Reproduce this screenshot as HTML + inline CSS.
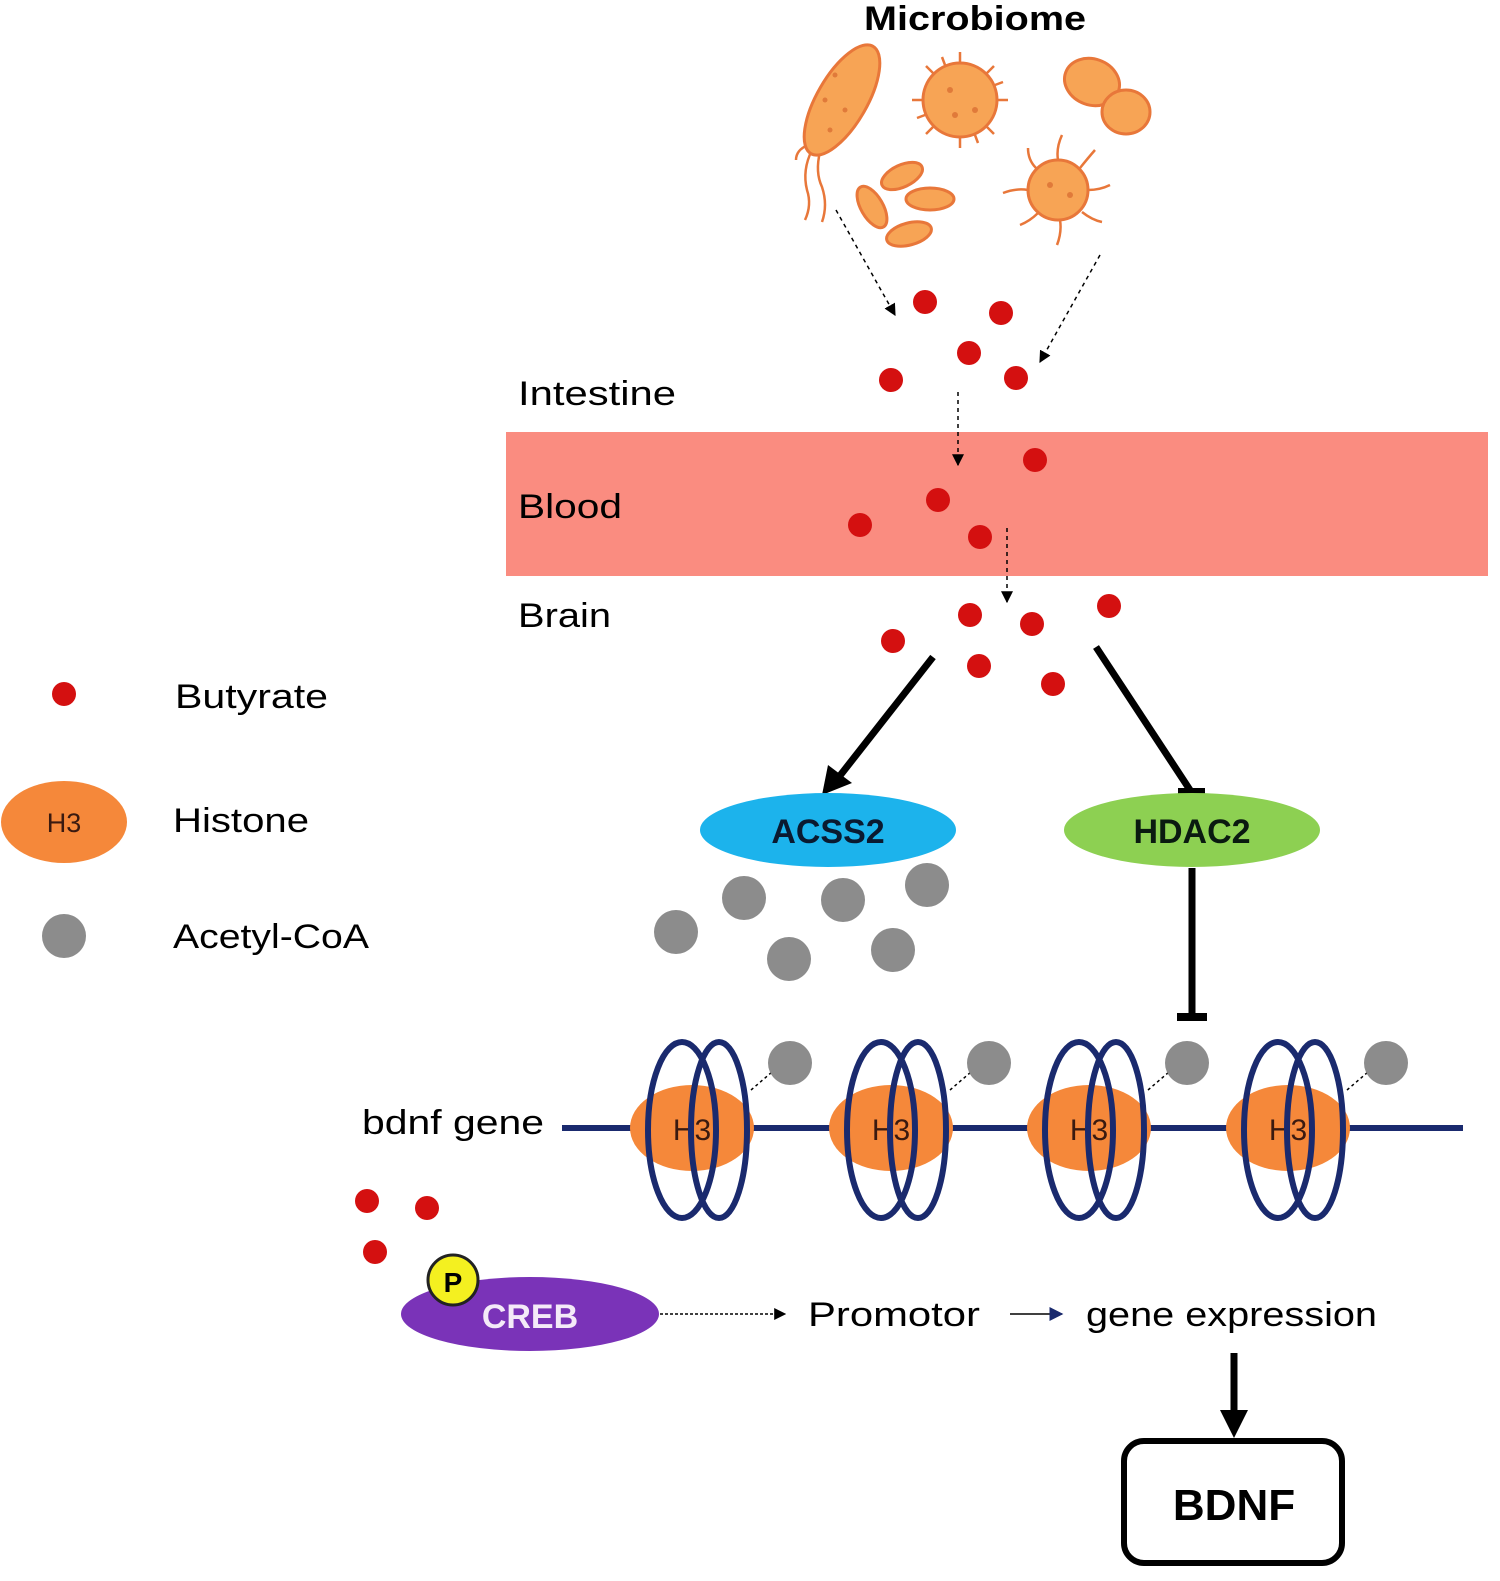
<!DOCTYPE html>
<html><head><meta charset="utf-8"><style>
html,body{margin:0;padding:0;background:#fff;overflow:hidden;width:1500px;height:1581px}
svg{display:block}
text{font-family:"Liberation Sans",sans-serif}
</style></head><body>
<svg width="1500" height="1581" viewBox="0 0 1500 1581" xmlns="http://www.w3.org/2000/svg">
<defs>
<marker id="ah" viewBox="0 0 10 10" refX="9" refY="5" markerWidth="12" markerHeight="12" markerUnits="userSpaceOnUse" orient="auto"><path d="M0,0 L10,5 L0,10 z" fill="#000"/></marker>
<marker id="ahb" viewBox="0 0 10 10" refX="9" refY="5" markerWidth="14" markerHeight="14" markerUnits="userSpaceOnUse" orient="auto"><path d="M0,0 L10,5 L0,10 z" fill="#1a2a6e"/></marker>
</defs>
<text x="975" y="30" font-size="34" font-weight="bold" text-anchor="middle" textLength="222" lengthAdjust="spacingAndGlyphs">Microbiome</text>
<!-- microbes -->
<g fill="#f7a455" stroke="#e8773a" stroke-width="3">
<g stroke="#e8773a" stroke-width="2.5" fill="none">
<path d="M812,150 q-10,20 -5,40 q5,15 -2,30"/><path d="M820,152 q-5,20 2,35 q6,18 0,35"/><path d="M808,145 q-12,5 -12,15"/>
<path d="M960,62 v-10 M960,138 v10 M922,100 h-10 M998,100 h10 M933,73 l-7,-7 M987,73 l7,-7 M933,127 l-7,7 M987,127 l7,7 M945,65 l-3,-8 M975,135 l3,8 M925,115 l-8,3 M995,85 l8,-3"/>
<path d="M1058,160 q-2,-12 4,-25 M1080,168 q8,-10 15,-18 M1088,190 q12,0 22,-5 M1082,212 q10,8 20,10 M1060,220 q2,12 -3,25 M1038,213 q-8,8 -18,12 M1028,190 q-12,-2 -25,3 M1036,168 q-8,-8 -8,-20"/>
</g>
<ellipse cx="842" cy="100" rx="25" ry="62" transform="rotate(30 842 100)"/>
<circle cx="960" cy="100" r="37"/>
<ellipse cx="1092" cy="82" rx="28" ry="23" transform="rotate(20 1092 82)"/>
<ellipse cx="1126" cy="112" rx="24" ry="22"/>
<ellipse cx="902" cy="176" rx="22" ry="11" transform="rotate(-25 902 176)"/>
<ellipse cx="930" cy="199" rx="24" ry="11"/>
<ellipse cx="872" cy="207" rx="11" ry="23" transform="rotate(-30 872 207)"/>
<ellipse cx="909" cy="234" rx="23" ry="11" transform="rotate(-15 909 234)"/>
<circle cx="1058" cy="190" r="30"/>
</g>
<g fill="#e07a3a"><circle cx="835" cy="75" r="2.5"/><circle cx="825" cy="100" r="2.5"/><circle cx="845" cy="110" r="2.5"/><circle cx="830" cy="130" r="2.5"/><circle cx="950" cy="90" r="3"/><circle cx="975" cy="110" r="3"/><circle cx="955" cy="115" r="3"/><circle cx="1050" cy="185" r="3"/><circle cx="1070" cy="195" r="3"/></g>
<!-- blood -->
<rect x="506" y="432" width="982" height="144" fill="#fa8c80"/>
<!-- dashed arrows -->
<g stroke="#000" stroke-width="1.5" stroke-dasharray="4,4" fill="none">
<line x1="836" y1="210" x2="895" y2="315" marker-end="url(#ah)"/>
<line x1="1100" y1="255" x2="1040" y2="362" marker-end="url(#ah)"/>
<line x1="958" y1="392" x2="958" y2="465" marker-end="url(#ah)"/>
<line x1="1007" y1="528" x2="1007" y2="602" marker-end="url(#ah)"/>
</g>
<g font-size="34" fill="#000">
<text x="518" y="405" textLength="158" lengthAdjust="spacingAndGlyphs">Intestine</text>
<text x="518" y="518" textLength="104" lengthAdjust="spacingAndGlyphs">Blood</text>
<text x="518" y="627" textLength="93" lengthAdjust="spacingAndGlyphs">Brain</text>
</g>
<!-- butyrate dots -->
<g fill="#d41010">
<circle cx="925" cy="302" r="12"/><circle cx="1001" cy="313" r="12"/><circle cx="969" cy="353" r="12"/><circle cx="891" cy="380" r="12"/><circle cx="1016" cy="378" r="12"/>
<circle cx="1035" cy="460" r="12"/><circle cx="938" cy="500" r="12"/><circle cx="860" cy="525" r="12"/><circle cx="980" cy="537" r="12"/>
<circle cx="970" cy="615" r="12"/><circle cx="1032" cy="624" r="12"/><circle cx="1109" cy="606" r="12"/><circle cx="893" cy="641" r="12"/><circle cx="979" cy="666" r="12"/><circle cx="1053" cy="684" r="12"/>
<circle cx="64" cy="694" r="12"/>
<circle cx="367" cy="1201" r="12"/><circle cx="427" cy="1208" r="12"/><circle cx="375" cy="1252" r="12"/>
</g>
<!-- legend -->
<ellipse cx="64" cy="822" rx="63" ry="41" fill="#f5883a"/>
<text x="64" y="832" font-size="27" text-anchor="middle" fill="#3a1a10">H3</text>
<circle cx="64" cy="936" r="22" fill="#8c8c8c"/>
<g font-size="34"><text x="175" y="708" textLength="153" lengthAdjust="spacingAndGlyphs">Butyrate</text><text x="173" y="832" textLength="136" lengthAdjust="spacingAndGlyphs">Histone</text><text x="173" y="948" textLength="196" lengthAdjust="spacingAndGlyphs">Acetyl-CoA</text></g>
<!-- arrows from brain -->
<line x1="933" y1="657" x2="835" y2="782" stroke="#000" stroke-width="7"/>
<path d="M822,795 l6,-30 l24,18 z" fill="#000"/>
<line x1="1096" y1="647" x2="1190" y2="790" stroke="#000" stroke-width="7"/>
<rect x="1178" y="788" width="27" height="8" fill="#000"/>
<!-- enzymes -->
<ellipse cx="828" cy="830" rx="128" ry="37" fill="#1cb3ec"/>
<text x="828" y="843" font-size="34" font-weight="bold" text-anchor="middle" fill="#0a1a30">ACSS2</text>
<ellipse cx="1192" cy="830" rx="128" ry="37" fill="#8dd052"/>
<text x="1192" y="843" font-size="34" font-weight="bold" text-anchor="middle" fill="#0a1a10">HDAC2</text>
<line x1="1192" y1="868" x2="1192" y2="1018" stroke="#000" stroke-width="7"/>
<rect x="1177" y="1013" width="30" height="8" fill="#000"/>
<!-- acetyl-coa -->
<g fill="#8c8c8c">
<circle cx="744" cy="898" r="22"/><circle cx="843" cy="900" r="22"/><circle cx="927" cy="885" r="22"/><circle cx="676" cy="932" r="22"/><circle cx="789" cy="959" r="22"/><circle cx="893" cy="950" r="22"/>
</g>
<!-- DNA -->
<text x="362" y="1134" font-size="34" textLength="182" lengthAdjust="spacingAndGlyphs">bdnf gene</text>
<line x1="562" y1="1128" x2="1463" y2="1128" stroke="#1a2a6e" stroke-width="6"/>
<g id="n1">
<ellipse cx="692" cy="1128" rx="62" ry="43" fill="#f5883a"/>
<text x="692" y="1140" font-size="30" text-anchor="middle" fill="#3a1a10">H3</text>
<ellipse cx="682" cy="1130" rx="34" ry="88" fill="none" stroke="#1a2a6e" stroke-width="6"/>
<ellipse cx="719" cy="1130" rx="28" ry="88" fill="none" stroke="#1a2a6e" stroke-width="6"/>
<line x1="751" y1="1090" x2="772" y2="1072" stroke="#000" stroke-width="1.5" stroke-dasharray="3,3"/>
<circle cx="790" cy="1063" r="22" fill="#8c8c8c"/>
</g>
<use href="#n1" x="199"/>
<use href="#n1" x="397"/>
<use href="#n1" x="596"/>
<!-- CREB -->
<ellipse cx="530" cy="1314" rx="129" ry="37" fill="#7a33b8"/>
<text x="530" y="1328" font-size="34" font-weight="bold" text-anchor="middle" fill="#f4eaf8">CREB</text>
<circle cx="453" cy="1280" r="25" fill="#f4f020" stroke="#222" stroke-width="3"/>
<text x="453" y="1292" font-size="28" font-weight="bold" text-anchor="middle">P</text>
<line x1="660" y1="1314" x2="785" y2="1314" stroke="#000" stroke-width="1.5" stroke-dasharray="3,2" marker-end="url(#ah)"/>
<g font-size="34"><text x="808" y="1326" textLength="172" lengthAdjust="spacingAndGlyphs">Promotor</text><text x="1086" y="1326" textLength="291" lengthAdjust="spacingAndGlyphs">gene expression</text></g>
<line x1="1010" y1="1314" x2="1062" y2="1314" stroke="#000" stroke-width="1.5" marker-end="url(#ahb)"/>
<line x1="1234" y1="1353" x2="1234" y2="1412" stroke="#000" stroke-width="7"/>
<path d="M1220,1410 l28,0 l-14,28 z" fill="#000"/>
<rect x="1124" y="1441" width="218" height="122" rx="20" fill="#fff" stroke="#000" stroke-width="6"/>
<text x="1234" y="1520" font-size="44" font-weight="bold" text-anchor="middle">BDNF</text>
</svg>
</body></html>
